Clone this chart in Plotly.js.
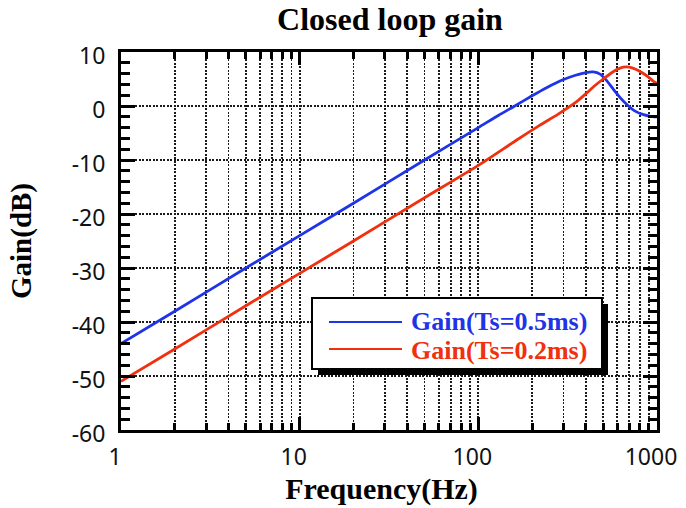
<!DOCTYPE html>
<html>
<head>
<meta charset="utf-8">
<script src="https://cdn.plot.ly/plotly-3.0.1.min.js"></script>
<style>
html,body{margin:0;padding:0;background:#fff;}
#chart{width:686px;height:508px;}
</style>
</head>
<body>
<div id="chart"></div>
<script>
// ---- data ----
const seriesNames = ['Gain(Ts=0.5ms)', 'Gain(Ts=0.2ms)'];
const freqBlue = [1, 2, 5, 10, 20, 50, 100, 130, 160, 200, 241, 300, 350, 400, 440, 480, 520, 570, 620, 687, 750, 840, 920, 1000];
const gainBlue = [-44, -38, -30, -24, -18, -10, -4, -1.7, 0.0, 1.9, 3.4, 4.9, 5.7, 6.2, 6.3, 5.9, 4.8, 3.1, 1.6, 0.1, -0.9, -1.6, -1.9, -2.0];
const freqRed = [1, 2, 5, 10, 20, 50, 100, 164, 220, 280, 355, 404, 450, 500, 560, 600, 647, 700, 760, 830, 900, 952, 1000];
const gainRed = [-51, -45, -37, -31, -25, -17, -11, -6.3, -3.6, -1.5, 0.8, 2.4, 3.8, 5.0, 6.2, 6.8, 7.2, 7.2, 6.8, 6.1, 5.3, 4.6, 4.2];
const xTickVals = [1, 10, 100, 1000];
const xTickText = ['1', '10', '100', '1000'];
const xMinorVals = [2,3,4,5,6,7,8,9,20,30,40,50,60,70,80,90,200,300,400,500,600,700,800,900];
const yTickVals = [-60, -50, -40, -30, -20, -10, 0, 10];
const yTickText = ['-60', '-50', '-40', '-30', '-20', '-10', '0', '10'];
const lineColors = ['#1f34e6', '#f0300e'];

// ---- layout helpers (pixel -> paper) ----
const W = 686, H = 508;
const M = {l: 121, r: 29, t: 52, b: 78};
const pw = W - M.l - M.r, ph = H - M.t - M.b;
const px = v => (v - M.l) / pw;
const py = v => (H - M.b - v) / ph;

const serif = 'Liberation Serif, Times New Roman, serif';
const sans = 'Noto Sans, Open Sans, sans-serif';
const gridStyle = {gridcolor: '#1a1a1a', gridwidth: 1.8, griddash: '2px,1.5px'};

const traces = [
  {x: freqBlue, y: gainBlue, type: 'scatter', mode: 'lines', name: seriesNames[0],
   line: {color: lineColors[0], width: 2.8, shape: 'spline', smoothing: 0.6}, showlegend: false},
  {x: freqRed, y: gainRed, type: 'scatter', mode: 'lines', name: seriesNames[1],
   line: {color: lineColors[1], width: 2.8, shape: 'spline', smoothing: 0.6}, showlegend: false}
];

// custom legend box (with drop shadow)
const lg = {x0: 312, x1: 602, y0: 298, y1: 369, sh: 6};
const rowY = [321, 350];
const shapes = [
  {type: 'rect', xref: 'paper', yref: 'paper', layer: 'above',
   x0: px(lg.x0 + lg.sh), x1: px(lg.x1 + lg.sh), y0: py(lg.y1 + lg.sh), y1: py(lg.y0 + lg.sh),
   fillcolor: '#000', line: {width: 0}},
  {type: 'rect', xref: 'paper', yref: 'paper', layer: 'above',
   x0: px(lg.x0), x1: px(lg.x1), y0: py(lg.y1), y1: py(lg.y0),
   fillcolor: '#fff', line: {color: '#000', width: 2}},
  {type: 'line', xref: 'paper', yref: 'paper', layer: 'above',
   x0: px(329), x1: px(402), y0: py(rowY[0] + 1), y1: py(rowY[0] + 1), line: {color: lineColors[0], width: 2}},
  {type: 'line', xref: 'paper', yref: 'paper', layer: 'above',
   x0: px(329), x1: px(402), y0: py(rowY[1] - 1), y1: py(rowY[1] - 1), line: {color: lineColors[1], width: 2}}
];
const annotations = [
  {xref: 'paper', yref: 'paper', x: px(409), y: py(rowY[0]), xanchor: 'left', yanchor: 'middle',
   text: '<b>' + seriesNames[0] + '</b>', showarrow: false,
   font: {family: serif, size: 26, color: lineColors[0]}},
  {xref: 'paper', yref: 'paper', x: px(409), y: py(rowY[1]), xanchor: 'left', yanchor: 'middle',
   text: '<b>' + seriesNames[1] + '</b>', showarrow: false,
   font: {family: serif, size: 26, color: lineColors[1]}}
];

const layout = {
  width: W, height: H,
  margin: M,
  paper_bgcolor: '#fff', plot_bgcolor: '#fff',
  showlegend: false,
  title: {text: '<b>Closed loop gain</b>', x: px(390), xref: 'paper', xanchor: 'center',
          y: 1 - 19 / H, yanchor: 'middle', font: {family: serif, size: 32, color: '#000'}},
  xaxis: Object.assign({
    type: 'log', range: [0, 3],
    tickvals: xTickVals, ticktext: xTickText,
    ticks: 'inside', ticklen: 13, tickwidth: 3, tickcolor: '#000',
    showline: true, linecolor: '#000', linewidth: 3, mirror: 'ticks',
    showgrid: true, zeroline: false,
    tickfont: {family: sans, size: 23, color: '#111'},
    ticklabelstandoff: 4, ticklabelshift: -6,
    title: {text: '<b>Frequency(Hz)</b>&nbsp;&nbsp;', standoff: 8, font: {family: serif, size: 30, color: '#000'}},
    minor: Object.assign({tickvals: xMinorVals, ticks: 'inside', ticklen: 7, tickwidth: 3, tickcolor: '#000', showgrid: true}, gridStyle)
  }, gridStyle),
  yaxis: Object.assign({
    range: [-60, 10], tickvals: yTickVals, ticktext: yTickText,
    ticks: 'inside', ticklen: 14, tickwidth: 3, tickcolor: '#000',
    showline: true, linecolor: '#000', linewidth: 3, mirror: 'ticks',
    showgrid: true, zeroline: false,
    tickfont: {family: sans, size: 23, color: '#111'},
    ticklabelstandoff: 8, ticklabelshift: 4,
    title: {text: '<b>Gain(dB)</b>', standoff: 32, font: {family: serif, size: 29, color: '#000'}},
    minor: {dtick: 2, ticks: 'inside', ticklen: 9, tickwidth: 3, tickcolor: '#000', showgrid: false}
  }, gridStyle),
  shapes: shapes,
  annotations: annotations
};

Plotly.newPlot('chart', traces, layout, {displayModeBar: false, staticPlot: true});
</script>
</body>
</html>
